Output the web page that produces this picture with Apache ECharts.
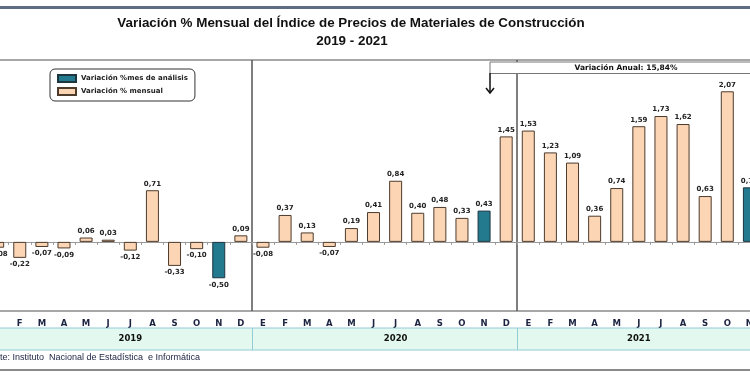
<!DOCTYPE html>
<html>
<head>
<meta charset="utf-8">
<script src="https://cdn.jsdelivr.net/npm/echarts/dist/echarts.min.js"></script>
<style>
  html, body { margin: 0; padding: 0; background: #fff; }
  #chart { width: 750px; height: 375px; }
</style>
</head>
<body>
<div id="chart"></div>
<script>
// data
var years = ['2019', '2020', '2021'];
var monthLetters = ['E', 'F', 'M', 'A', 'M', 'J', 'J', 'A', 'S', 'O', 'N', 'D'];
var values = [
    -0.08, -0.22, -0.07, -0.09, 0.06, 0.03, -0.12, 0.71, -0.33, -0.10, -0.50, 0.09,
    -0.08, 0.37, 0.13, -0.07, 0.19, 0.41, 0.84, 0.40, 0.48, 0.33, 0.43, 1.45,
    1.53, 1.23, 1.09, 0.36, 0.74, 1.59, 1.73, 1.62, 0.63, 2.07, 0.75
];
var highlightIdx = [10, 22, 34];      // mes de análisis
var yearLabelIdx = [6, 18, 29];
var yearBreakIdx = [12, 24];
var nameMonthly = 'Variación % mensual';
var nameAnalysis = 'Variación %mes de análisis';
var annualLabel = 'Variación Anual: 15,84%';
var titleLines = ['Variación % Mensual del Índice de Precios de Materiales de Construcción', '2019 - 2021'];
var sourceText = 'Fuente: Instituto  Nacional de Estadística  e Informática';

var categories = values.map(function (v, i) {
    return years[Math.floor(i / 12)] + '-' + monthLetters[i % 12];
});

function item(v) {
    return { value: v, label: { position: v < 0 ? 'bottom' : 'top' } };
}
var monthlyData = values.map(function (v, i) {
    return highlightIdx.indexOf(i) >= 0 ? null : item(v);
});
var analysisData = values.map(function (v, i) {
    return highlightIdx.indexOf(i) >= 0 ? item(v) : null;
});

var fmt = function (p) {
    return p.value == null ? '' : p.value.toFixed(2).replace('.', ',');
};
var isBreak = function (i) { return yearBreakIdx.indexOf(i) >= 0; };

var catW = 22.11;
var gridLeft = -13.4;
var gridW = catW * values.length;

var labelStyle = {
    show: true,
    formatter: fmt,
    fontSize: 7,
    fontWeight: 'bold',
    fontFamily: 'DejaVu Sans',
    color: '#222',
    distance: 3
};

var myChart = echarts.init(document.getElementById('chart'));
myChart.setOption({
    animation: false,
    backgroundColor: '#fff',
    grid: [
        { left: gridLeft, width: gridW, top: 60, height: 251, show: true,
          borderColor: '#8a8a8a', borderWidth: 1.5, outerBoundsMode: 'none', containLabel: false },
        { left: gridLeft, width: gridW, top: 328, height: 22, show: true,
          backgroundColor: '#E3F9EF', borderColor: '#94CCD6', borderWidth: 1,
          outerBoundsMode: 'none', containLabel: false }
    ],
    legend: {
        data: [nameAnalysis, nameMonthly],
        orient: 'vertical',
        left: 50,
        top: 69,
        padding: [5, 7],
        itemWidth: 18,
        itemHeight: 7,
        itemGap: 4,
        icon: 'rect',
        selectedMode: false,
        backgroundColor: '#fff',
        borderColor: '#333',
        borderWidth: 1,
        borderRadius: 5,
        textStyle: { fontSize: 7, fontWeight: 'bold', fontFamily: 'DejaVu Sans', color: '#222' }
    },
    xAxis: [
        {
            gridIndex: 0,
            type: 'category',
            data: categories,
            position: 'top',
            axisLine: { onZero: true, lineStyle: { color: '#999', width: 1 } },
            axisTick: { show: true, inside: true, length: 3, interval: 0, lineStyle: { color: '#999' } },
            axisLabel: { show: false },
            splitLine: { show: true, interval: isBreak, lineStyle: { color: '#555', width: 1.5 } }
        },
        {
            gridIndex: 0,
            type: 'category',
            data: categories,
            position: 'bottom',
            axisLine: { show: false },
            axisTick: { show: false },
            axisLabel: {
                interval: 0,
                margin: 8,
                formatter: function (v) { return v.split('-')[1]; },
                fontSize: 8.5,
                fontWeight: 'bold',
                fontFamily: 'DejaVu Sans',
                color: '#1b2340'
            },
            splitLine: { show: false }
        },
        {
            gridIndex: 1,
            type: 'category',
            data: categories,
            position: 'bottom',
            axisLine: { show: false },
            axisTick: { show: false },
            axisLabel: {
                inside: true,
                margin: 11,
                verticalAlign: 'middle',
                interval: function (i) { return yearLabelIdx.indexOf(i) >= 0; },
                formatter: function (v) { return v.split('-')[0]; },
                fontSize: 8.5,
                fontWeight: 'bold',
                fontFamily: 'DejaVu Sans',
                color: '#111'
            },
            splitLine: { show: true, interval: isBreak, lineStyle: { color: '#94CCD6', width: 1 } }
        }
    ],
    yAxis: [
        { gridIndex: 0, type: 'value', min: -0.95, max: 2.5, show: false },
        { gridIndex: 1, type: 'value', show: false }
    ],
    series: [
        {
            name: nameMonthly,
            type: 'bar',
            xAxisIndex: 0,
            yAxisIndex: 0,
            barWidth: 13,
            barGap: '-100%',
            itemStyle: { color: '#FCD5B4', borderColor: '#4d3b2c', borderWidth: 1 },
            label: labelStyle,
            data: monthlyData
        },
        {
            name: nameAnalysis,
            type: 'bar',
            xAxisIndex: 0,
            yAxisIndex: 0,
            barWidth: 13,
            barGap: '-100%',
            itemStyle: { color: '#23798E', borderColor: '#1d3640', borderWidth: 1 },
            label: labelStyle,
            data: analysisData
        }
    ],
    graphic: [
        { type: 'rect', z: 100, shape: { x: 0, y: 6, width: 750, height: 3 }, style: { fill: '#5d6e82' } },
        { type: 'text', z: 100, x: 351, y: 23,
          style: { text: titleLines[0], font: 'bold 13.4px "Liberation Sans"', fill: '#111', textAlign: 'center', textVerticalAlign: 'middle' } },
        { type: 'text', z: 100, x: 352, y: 41,
          style: { text: titleLines[1], font: 'bold 13.4px "Liberation Sans"', fill: '#111', textAlign: 'center', textVerticalAlign: 'middle' } },
        { type: 'rect', z: 100, shape: { x: 490, y: 62, width: 280, height: 11.5 },
          style: { fill: '#fff', stroke: '#777', lineWidth: 1 } },
        { type: 'text', z: 101, x: 626, y: 68,
          style: { text: annualLabel, font: 'bold 7.5px "DejaVu Sans"', fill: '#111', textAlign: 'center', textVerticalAlign: 'middle' } },
        { type: 'polyline', z: 101, shape: { points: [[490, 73], [490, 93]] }, style: { stroke: '#111', lineWidth: 1.5 } },
        { type: 'polyline', z: 101, shape: { points: [[486, 88], [490, 93], [494, 88]] }, style: { stroke: '#111', lineWidth: 1.5, fill: null } },
        { type: 'text', z: 100, x: -20.5, y: 358,
          style: { text: sourceText, font: '9px "Liberation Sans"', fill: '#1b2340', textAlign: 'left', textVerticalAlign: 'middle' } },
        { type: 'rect', z: 100, shape: { x: 0, y: 369, width: 750, height: 2 }, style: { fill: '#8a8a8a' } }
    ]
});
</script>
</body>
</html>
